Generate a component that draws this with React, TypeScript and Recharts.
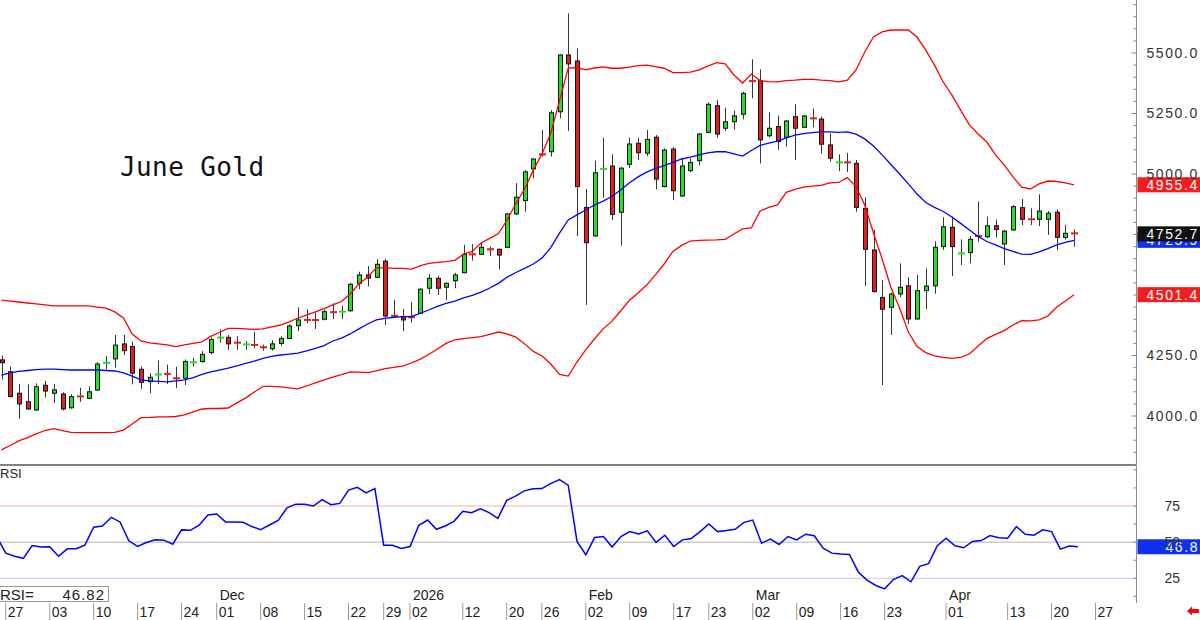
import React from "react";
import { Bar, ComposedChart, Line, ReferenceLine, XAxis, YAxis } from "recharts";

// trading days (MM-DD), Oct 24 2025 .. May 4 2026 (last slots are empty)
const dates = (
  "10-24 10-27 10-28 10-29 10-30 10-31 11-03 11-04 11-05 11-06 11-07 11-10 11-11 11-12 11-13 11-14 " +
  "11-17 11-18 11-19 11-20 11-21 11-24 11-25 11-26 11-28 12-01 12-02 12-03 12-04 12-05 12-08 12-09 " +
  "12-10 12-11 12-12 12-15 12-16 12-17 12-18 12-19 12-22 12-23 12-24 12-26 12-29 12-30 12-31 01-02 " +
  "01-05 01-06 01-07 01-08 01-09 01-12 01-13 01-14 01-15 01-16 01-20 01-21 01-22 01-23 01-26 01-27 " +
  "01-28 01-29 01-30 02-02 02-03 02-04 02-05 02-06 02-09 02-10 02-11 02-12 02-13 02-17 02-18 02-19 " +
  "02-20 02-23 02-24 02-25 02-26 02-27 03-02 03-03 03-04 03-05 03-06 03-09 03-10 03-11 03-12 03-13 " +
  "03-16 03-17 03-18 03-19 03-20 03-23 03-24 03-25 03-26 03-27 03-30 03-31 04-01 04-02 04-06 04-07 " +
  "04-08 04-09 04-10 04-13 04-14 04-15 04-16 04-17 04-20 04-21 04-22 04-23 04-24 04-27 04-28 04-29 " +
  "04-30 05-01 05-04"
).split(" ");

const open = [
  4232, 4183, 4094, 4059, 4025, 4127, 4094, 4091, 4034, 4083, 4073, 4107, 4218, 4236, 4298, 4287, 4193, 4142, 4169, 4176,
  4158, 4156, 4220, 4225, 4262, 4322, 4325, 4305, 4294, 4296, 4286, 4278, 4300, 4320, 4373, 4399, 4399, 4400, 4431, 4429,
  4435, 4548, 4583, 4573, 4640, 4418, 4410, 4410, 4424, 4528, 4569, 4532, 4559, 4592, 4670, 4668, 4691, 4689, 4697, 4835,
  4890, 5021, 5083, 5092, 5257, 5492, 5467, 4862, 4744, 5019, 5033, 4842, 5040, 5127, 5086, 5152, 4948, 5103, 4909, 5014,
  5055, 5172, 5282, 5189, 5216, 5247, 5386, 5386, 5158, 5196, 5152, 5237, 5193, 5232, 5227, 5120, 5046, 5050, 5044, 4858,
  4686, 4490, 4449, 4504, 4538, 4401, 4518, 4538, 4700, 4780, 4670, 4675, 4746, 4741, 4786, 4711, 4769, 4861, 4815, 4813,
  4813, 4842, 4738, 4757,
];
const high = [
  4250, 4204, 4132, 4130, 4135, 4145, 4132, 4098, 4090, 4117, 4123, 4222, 4248, 4335, 4335, 4307, 4204, 4177, 4229, 4212,
  4204, 4234, 4240, 4268, 4325, 4358, 4335, 4330, 4310, 4348, 4295, 4313, 4330, 4379, 4449, 4441, 4427, 4440, 4466, 4455,
  4550, 4596, 4620, 4648, 4650, 4480, 4442, 4472, 4528, 4587, 4579, 4553, 4592, 4707, 4710, 4716, 4700, 4692, 4838, 4962,
  5016, 5065, 5182, 5264, 5494, 5664, 5519, 4938, 5055, 5150, 5081, 5030, 5150, 5150, 5182, 5161, 5106, 5110, 5062, 5065,
  5170, 5295, 5306, 5274, 5262, 5340, 5474, 5433, 5255, 5241, 5223, 5288, 5244, 5271, 5237, 5168, 5081, 5087, 5058, 4904,
  4771, 4562, 4510, 4631, 4573, 4583, 4610, 4722, 4821, 4824, 4730, 4744, 4886, 4824, 4812, 4769, 4872, 4897, 4858, 4916,
  4847, 4854, 4790, 4771,
];
const low = [
  4150, 4078, 3988, 4025, 4020, 4077, 4054, 4023, 4030, 4059, 4070, 4104, 4193, 4200, 4252, 4131, 4112, 4094, 4132, 4132,
  4115, 4128, 4205, 4220, 4255, 4303, 4273, 4273, 4273, 4280, 4270, 4270, 4290, 4318, 4351, 4383, 4360, 4395, 4400, 4400,
  4430, 4524, 4535, 4569, 4376, 4405, 4351, 4386, 4421, 4504, 4500, 4479, 4528, 4590, 4642, 4665, 4661, 4606, 4693, 4831,
  4844, 4982, 5072, 5072, 5230, 5178, 4744, 4459, 4741, 4902, 4810, 4704, 5024, 5058, 5074, 4937, 4945, 4893, 4906, 5007,
  5035, 5168, 5150, 5178, 5184, 5226, 5313, 5044, 5152, 5099, 5113, 5058, 5191, 5193, 5085, 5051, 5012, 5008, 4844, 4537,
  4510, 4128, 4335, 4491, 4380, 4397, 4442, 4505, 4686, 4578, 4624, 4631, 4720, 4734, 4738, 4624, 4766, 4789, 4789, 4785,
  4748, 4686, 4729, 4700,
];
const close = [
  4220, 4080, 4050, 4029, 4121, 4103, 4108, 4029, 4080, 4079, 4100, 4215, 4222, 4293, 4270, 4177, 4139, 4160, 4174, 4172,
  4154, 4225, 4224, 4255, 4316, 4326, 4298, 4301, 4298, 4291, 4282, 4298, 4320, 4372, 4397, 4395, 4394, 4431, 4427, 4433,
  4544, 4583, 4570, 4627, 4413, 4410, 4397, 4406, 4524, 4569, 4528, 4548, 4583, 4668, 4666, 4697, 4687, 4665, 4835, 4904,
  5009, 5062, 5079, 5253, 5492, 5455, 4948, 4716, 5005, 5023, 4833, 5024, 5124, 5088, 5143, 4979, 5099, 4931, 5033, 5048,
  5165, 5288, 5165, 5216, 5240, 5333, 5382, 5141, 5189, 5134, 5219, 5189, 5240, 5228, 5123, 5065, 5050, 5046, 4862, 4689,
  4514, 4441, 4504, 4532, 4401, 4518, 4537, 4697, 4782, 4700, 4674, 4730, 4742, 4786, 4771, 4764, 4865, 4813, 4811, 4847,
  4838, 4738, 4755, 4752.7,
];

const bbUpper = [
  4479, 4475, 4471, 4467, 4463, 4459, 4455, 4455, 4455, 4455, 4455, 4450, 4446, 4430, 4405, 4339, 4310, 4302, 4298, 4294,
  4287, 4294, 4300, 4306, 4329, 4345, 4362, 4362, 4360, 4358, 4360, 4368, 4376, 4389, 4405, 4417, 4430, 4444, 4459, 4473,
  4504, 4546, 4574, 4612, 4612, 4610, 4610, 4607, 4620, 4631, 4635, 4638, 4643, 4669, 4680, 4715, 4734, 4754, 4810, 4878,
  4938, 5017, 5083, 5169, 5302, 5438, 5440, 5430, 5438, 5443, 5437, 5437, 5442, 5448, 5450, 5444, 5437, 5419, 5419, 5421,
  5430, 5446, 5460, 5455, 5409, 5376, 5413, 5386, 5382, 5381, 5386, 5388, 5391, 5391, 5388, 5386, 5381, 5388, 5430, 5504,
  5566, 5587, 5595, 5595, 5595, 5566, 5512, 5450, 5380, 5326, 5264, 5203, 5165, 5132, 5079, 5037, 4988, 4946, 4938, 4959,
  4971, 4969, 4963, 4955.4,
];
const bbMid = [
  4169, 4178, 4184, 4188, 4192, 4194, 4194, 4192, 4190, 4190, 4190, 4190, 4188, 4186, 4178, 4165, 4149, 4145, 4143, 4141,
  4145, 4149, 4159, 4172, 4182, 4190, 4198, 4207, 4217, 4227, 4238, 4246, 4252, 4256, 4260, 4269, 4279, 4291, 4310, 4322,
  4339, 4360, 4380, 4397, 4403, 4408, 4411, 4411, 4424, 4438, 4453, 4465, 4475, 4488, 4498, 4512, 4529, 4548, 4574, 4593,
  4610, 4628, 4653, 4696, 4756, 4810, 4831, 4851, 4872, 4888, 4907, 4934, 4963, 4988, 5008, 5023, 5035, 5048, 5062, 5070,
  5079, 5087, 5092, 5092, 5083, 5074, 5097, 5118, 5128, 5136, 5149, 5161, 5167, 5171, 5174, 5174, 5172, 5174, 5165, 5145,
  5116, 5079, 5039, 5000, 4959, 4917, 4882, 4862, 4845, 4822, 4796, 4769, 4742, 4721, 4707, 4692, 4680, 4669, 4668, 4678,
  4692, 4707, 4717, 4725.9,
];
const bbLower = [
  3860, 3878, 3897, 3911, 3926, 3940, 3948, 3940, 3932, 3931, 3931, 3931, 3931, 3932, 3942, 3967, 3993, 3994, 3996, 3996,
  3998, 4005, 4017, 4029, 4031, 4031, 4033, 4054, 4074, 4099, 4122, 4122, 4120, 4116, 4112, 4124, 4137, 4149, 4161, 4171,
  4182, 4181, 4179, 4186, 4196, 4201, 4206, 4219, 4234, 4254, 4277, 4300, 4315, 4320, 4324, 4328, 4337, 4347, 4339, 4326,
  4298, 4267, 4248, 4215, 4172, 4165, 4223, 4273, 4318, 4360, 4391, 4434, 4477, 4508, 4541, 4583, 4628, 4680, 4705, 4723,
  4726, 4727, 4728, 4730, 4752, 4773, 4777, 4847, 4862, 4872, 4924, 4936, 4946, 4950, 4953, 4963, 4965, 4985, 4948, 4872,
  4756, 4649, 4531, 4446, 4347, 4287, 4262, 4248, 4242, 4238, 4242, 4256, 4289, 4320, 4337, 4353, 4376, 4394, 4393, 4397,
  4413, 4449, 4475, 4501.4,
];
const rsi = [
  53.4, 42.4, 40.2, 38.8, 47.7, 46.6, 46.8, 40.2, 45.4, 45.4, 47.9, 60.3, 61.2, 67.2, 64.0, 50.9, 47.0, 49.8, 51.6, 51.4,
  48.6, 58.5, 58.2, 61.7, 68.8, 69.5, 64.0, 64.0, 63.7, 60.8, 58.7, 61.9, 65.1, 73.8, 76.3, 76.3, 75.0, 79.5, 75.9, 76.8,
  86.0, 88.0, 84.1, 87.1, 47.9, 47.9, 45.6, 47.0, 61.7, 65.3, 58.9, 61.2, 64.4, 71.3, 70.4, 73.1, 70.4, 66.5, 78.9, 81.8,
  85.5, 86.9, 87.1, 90.5, 93.3, 89.4, 50.5, 41.3, 53.2, 53.9, 46.6, 53.9, 57.3, 55.7, 57.8, 49.8, 54.8, 47.0, 51.6, 52.5,
  57.3, 62.6, 57.3, 58.0, 58.9, 63.7, 65.3, 49.3, 52.1, 48.4, 53.9, 51.6, 55.5, 54.4, 45.9, 42.4, 41.8, 41.5, 29.4, 23.7,
  20.0, 17.7, 24.1, 26.9, 22.6, 33.3, 35.1, 47.5, 52.7, 47.5, 46.1, 50.5, 51.1, 54.6, 53.0, 52.7, 60.8, 55.5, 54.8, 58.5,
  57.3, 45.2, 47.3, 46.82,
];

const weekTicks = [
  "10-27", "11-03", "11-10", "11-17", "11-24", "12-01", "12-08", "12-15", "12-22", "12-29", "01-02", "01-12", "01-20",
  "01-26", "02-02", "02-09", "02-17", "02-23", "03-02", "03-09", "03-16", "03-23", "04-01", "04-13", "04-20", "04-27",
];
const monthLabels: Record<string, string> = { "12-01": "Dec", "01-02": "2026", "02-02": "Feb", "03-02": "Mar", "04-01": "Apr" };
const priceLabels = [4000, 4250, 5000, 5250, 5500];
const priceTicks = Array.from({ length: 39 }, (_, k) => 3800 + 50 * k);
const rsiLabels = [25, 50, 75];
const rsiTicks = [12.5, 25, 37.5, 50, 62.5, 75, 87.5, 100];

const rows = dates.map((d, i) => ({
  date: d,
  range: i < open.length ? [low[i], high[i]] : null,
  o: open[i],
  c: close[i],
  up: bbUpper[i],
  mid: bbMid[i],
  lo: bbLower[i],
  rsi: rsi[i],
}));

const last = open.length - 1;
const FONT = "'Liberation Sans', Arial, sans-serif";
const W = 1203.47;
const PAD = { left: 0, right: -2.98 };

function Candle(props: any) {
  const { x, y, width, height, payload } = props;
  if (!payload || payload.o == null) return null;
  const top = Math.min(y, y + height);
  const bot = Math.max(y, y + height);
  const [lo, hi] = payload.range;
  const px = (v: number) => (hi === lo ? top : top + ((hi - v) / (hi - lo)) * (bot - top));
  const cx = Math.round(x + width / 2);
  const yo = px(payload.o);
  const yc = px(payload.c);
  const color = payload.c >= payload.o ? "#22e022" : "#e02020";
  const bodyH = Math.abs(yc - yo);
  return (
    <g>
      <line x1={cx + 0.5} x2={cx + 0.5} y1={top} y2={bot} stroke="#333" strokeWidth={1} />
      {bodyH < 2 ? (
        <rect x={cx - 3} y={(yo + yc) / 2 - 1} width={7} height={2} fill={color} />
      ) : (
        <rect x={cx - 1.5} y={Math.min(yo, yc)} width={4} height={bodyH} fill={color} stroke="#111" strokeWidth={1} />
      )}
    </g>
  );
}

function PriceTick({ x, y, payload }: any) {
  const v = payload.value;
  const major = priceLabels.includes(v);
  return (
    <g>
      <line x1={x - (major ? 5 : 3)} x2={x} y1={y} y2={y} stroke="#888" />
      {major && (
        <text x={x + 10} y={y + 5} fontSize={14} fill="#333" letterSpacing={1.6} fontFamily={FONT}>
          {v.toFixed(1)}
        </text>
      )}
    </g>
  );
}

function RsiTick({ x, y, payload }: any) {
  const v = payload.value;
  const lab = rsiLabels.includes(v);
  return (
    <g>
      <line x1={x - 3} x2={x} y1={y} y2={y} stroke="#888" />
      {lab && (
        <text x={x + 28} y={y + 5} fontSize={14} fill="#333" fontFamily={FONT}>
          {v}
        </text>
      )}
    </g>
  );
}

function DateTick({ x, y, payload }: any) {
  const d = payload.value as string;
  const month = monthLabels[d];
  return (
    <g>
      <line x1={x} x2={x} y1={y} y2={y + 17} stroke="#999" />
      <text x={x + 2} y={y + 14} fontSize={14} fill="#222" fontFamily={FONT}>
        {d.slice(3)}
      </text>
      {month && (
        <text x={x + 3} y={y - 3} fontSize={14} fill="#222" fontFamily={FONT}>
          {month}
        </text>
      )}
    </g>
  );
}

function Tag({ viewBox, tagText, bg, tx }: any) {
  if (!viewBox) return null;
  const x = viewBox.x + viewBox.width + 1;
  const y = viewBox.y;
  return (
    <g>
      <rect x={x} y={y - 7.5} width={70} height={15} fill={bg} />
      <text x={x + (tx ?? 9)} y={y + 5} fill="#fff" fontSize={14} letterSpacing={1.6} fontFamily={FONT}>
        {tagText}
      </text>
    </g>
  );
}

export default function App() {
  return (
    <div style={{ position: "absolute", left: 0, top: 0, width: 1200, height: 620, overflow: "hidden", background: "#fff", fontFamily: FONT }}>
      <div style={{ position: "absolute", left: -3.47, top: 0 }}>
        <ComposedChart width={W} height={466} data={rows} margin={{ top: 0, right: 0, bottom: 0, left: 0 }}>
          <XAxis dataKey="date" height={1} tick={false} tickLine={false} axisLine={{ stroke: "#000" }} padding={PAD} />
          <YAxis
            orientation="right"
            width={64}
            domain={[3797.5, 5719]}
            allowDataOverflow
            ticks={priceTicks}
            interval={0}
            tick={<PriceTick />}
            tickLine={false}
            tickSize={0}
            tickMargin={0}
            axisLine={{ stroke: "#888" }}
          />
          <Line dataKey="up" stroke="#ff0000" strokeWidth={1.3} dot={false} activeDot={false} isAnimationActive={false} />
          <Line dataKey="lo" stroke="#ff0000" strokeWidth={1.3} dot={false} activeDot={false} isAnimationActive={false} />
          <Line dataKey="mid" stroke="#0000ff" strokeWidth={1.3} dot={false} activeDot={false} isAnimationActive={false} />
          <Bar dataKey="range" barSize={7} shape={(p: any) => <Candle {...p} />} activeBar={false} isAnimationActive={false} />
          <ReferenceLine y={bbUpper[last]} stroke="none" label={<Tag tagText={bbUpper[last].toFixed(1)} bg="#f41c1c" />} />
          <ReferenceLine y={bbLower[last]} stroke="none" label={<Tag tagText={bbLower[last].toFixed(1)} bg="#f41c1c" />} />
          <ReferenceLine y={bbMid[last]} stroke="none" label={<Tag tagText={bbMid[last].toFixed(1)} bg="#1030f0" />} />
          <ReferenceLine y={close[last]} stroke="none" label={<Tag tagText={close[last].toFixed(1)} bg="#111" />} />
        </ComposedChart>
      </div>
      <div style={{ position: "absolute", left: -3.47, top: 466 }}>
        <ComposedChart width={W} height={154} data={rows} margin={{ top: 0, right: 0, bottom: 0, left: 0 }}>
          <XAxis
            dataKey="date"
            height={17}
            ticks={weekTicks}
            interval={0}
            tick={<DateTick />}
            tickLine={false}
            tickSize={0}
            tickMargin={0}
            axisLine={false}
            padding={PAD}
          />
          <YAxis
            orientation="right"
            width={64}
            domain={[7.9, 102.7]}
            allowDataOverflow
            ticks={rsiTicks}
            interval={0}
            tick={<RsiTick />}
            tickLine={false}
            tickSize={0}
            tickMargin={0}
            axisLine={{ stroke: "#888" }}
          />
          <ReferenceLine y={75} stroke="#f5b0b0" />
          <ReferenceLine y={50} stroke="#b4b4b4" />
          <ReferenceLine y={25} stroke="#c4c4f6" />
          <Line dataKey="rsi" stroke="#0000ff" strokeWidth={1.5} dot={false} activeDot={false} isAnimationActive={false} />
          <ReferenceLine y={rsi[last]} stroke="none" label={<Tag tagText={rsi[last].toFixed(1)} bg="#1030f0" tx={28} />} />
        </ComposedChart>
      </div>
      <div
        style={{
          position: "absolute",
          left: 120,
          top: 154,
          fontFamily: "'DejaVu Sans Mono', monospace",
          fontSize: 26,
          lineHeight: "26px",
          letterSpacing: 0.4,
          color: "#111",
        }}
      >
        June Gold
      </div>
      <div style={{ position: "absolute", left: 0, top: 467, fontSize: 13, lineHeight: "14px", color: "#222" }}>RSI</div>
      <div
        style={{
          position: "absolute",
          left: -1,
          top: 586,
          width: 110,
          height: 16,
          border: "1px solid #999",
          background: "#fff",
          fontSize: 15,
          lineHeight: "15px",
          color: "#222",
          display: "flex",
          justifyContent: "space-between",
          boxSizing: "border-box",
          padding: "0 3px 0 0",
        }}
      >
        <span>RSI=</span>
        <span style={{ letterSpacing: 1 }}>{rsi[last].toFixed(2)}</span>
      </div>
      <svg style={{ position: "absolute", left: 1186, top: 605 }} width={14} height={12}>
        <polygon points="1,6 6,1.5 6,4 13,4 13,8 6,8 6,10.5" fill="#ff0000" />
      </svg>
    </div>
  );
}
